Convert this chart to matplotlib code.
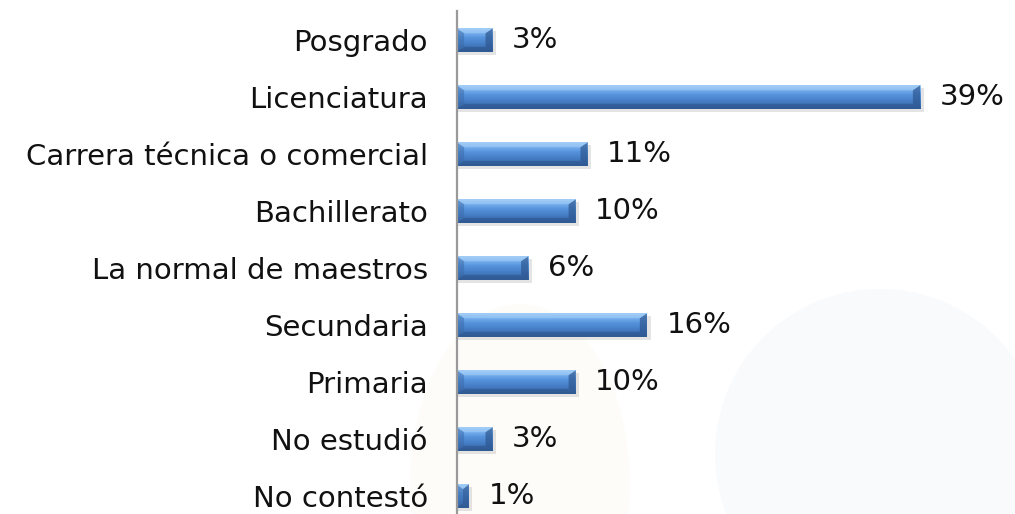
import numpy as np
import matplotlib.pyplot as plt
from matplotlib.patches import Polygon, Ellipse
from matplotlib.colors import LinearSegmentedColormap

# Nivel de estudios (de abajo hacia arriba)
categorias = ["No contestó", "No estudió", "Primaria", "Secundaria",
              "La normal de maestros", "Bachillerato",
              "Carrera técnica o comercial", "Licenciatura", "Posgrado"]
porcentajes = [1, 3, 10, 16, 6, 10, 11, 39, 3]
etiquetas = ["1%", "3%", "10%", "16%", "6%", "10%", "11%", "39%", "3%"]

plt.rcParams["font.family"] = ["DejaVu Sans"]

fig = plt.figure(figsize=(10.15, 5.14), dpi=100)
fig.patch.set_facecolor("white")

# marca de agua tenue de fondo
fig.patches.append(Ellipse((8.8, 0.6), 3.3, 3.3, transform=fig.dpi_scale_trans,
                           facecolor="#f8fafc", edgecolor="none", zorder=-1))
fig.patches.append(Ellipse((5.2, 0.3), 2.2, 3.6, transform=fig.dpi_scale_trans,
                           facecolor="#fefcf9", edgecolor="none", zorder=-1))

ax = fig.add_axes([457 / 1015, 0, 1 - 457 / 1015, 503 / 514])
ax.patch.set_alpha(0)

y = np.arange(len(categorias))
alto = 0.41

cmap = LinearSegmentedColormap.from_list(
    "azul", ["#345f9a", "#3f72b6", "#4a84cc", "#5693dc", "#78b0ef", "#a2cdf8"])
grad = np.linspace(0, 1, 64).reshape(-1, 1)

# sombra
ax.barh(y - 0.05, [v + 0.2 for v in porcentajes], height=alto, left=0.1,
        color="#c4c4c4", alpha=0.45, zorder=2)
barras = ax.barh(y, porcentajes, height=alto, color="#4a80c4", zorder=3)

bx_full, by = 0.6, 0.085
for rect, v, yi in zip(barras, porcentajes, y):
    y0, y1 = yi - alto / 2, yi + alto / 2
    im = ax.imshow(grad, cmap=cmap, extent=(0, v, y0, y1), origin="lower",
                   aspect="auto", zorder=4)
    im.set_clip_path(rect)
    bx = min(bx_full, v / 2)
    # biseles de los extremos
    ax.add_patch(Polygon([(v, y0), (v, y1), (v - bx, y1 - by), (v - bx, y0 + by)],
                         closed=True, facecolor="#2d5790", alpha=0.7,
                         edgecolor="none", zorder=5))
    ax.add_patch(Polygon([(0, y0), (0, y1), (bx, y1 - by), (bx, y0 + by)],
                         closed=True, facecolor="#3a6aa8", alpha=0.5,
                         edgecolor="none", zorder=5))
    ax.add_patch(Polygon([(0, y1), (v, y1), (v - bx, y1 - by), (bx, y1 - by)],
                         closed=True, facecolor="#a6cff8", alpha=0.5,
                         edgecolor="none", zorder=5))
    ax.add_patch(Polygon([(0, y0), (v, y0), (v - bx, y0 + by), (bx, y0 + by)],
                         closed=True, facecolor="#2a5288", alpha=0.5,
                         edgecolor="none", zorder=5))

for v, yi, txt in zip(porcentajes, y, etiquetas):
    ax.annotate(txt, (v, yi), xytext=(14, 0), textcoords="offset points",
                ha="left", va="center", fontsize=21, color="#111111")

ax.set_yticks(y)
ax.set_yticklabels(categorias, fontsize=21, color="#111111")
ax.tick_params(axis="y", length=0, pad=21)
ax.set_xticks([])
ax.set_xlim(0, 47)
ax.set_ylim(-0.316, 8.51)

for s in ["top", "right", "bottom"]:
    ax.spines[s].set_visible(False)
ax.spines["left"].set_color("#9a9a9a")
ax.spines["left"].set_linewidth(1.6)
ax.spines["left"].set_zorder(6)

fig.savefig("out.png", dpi=100)
